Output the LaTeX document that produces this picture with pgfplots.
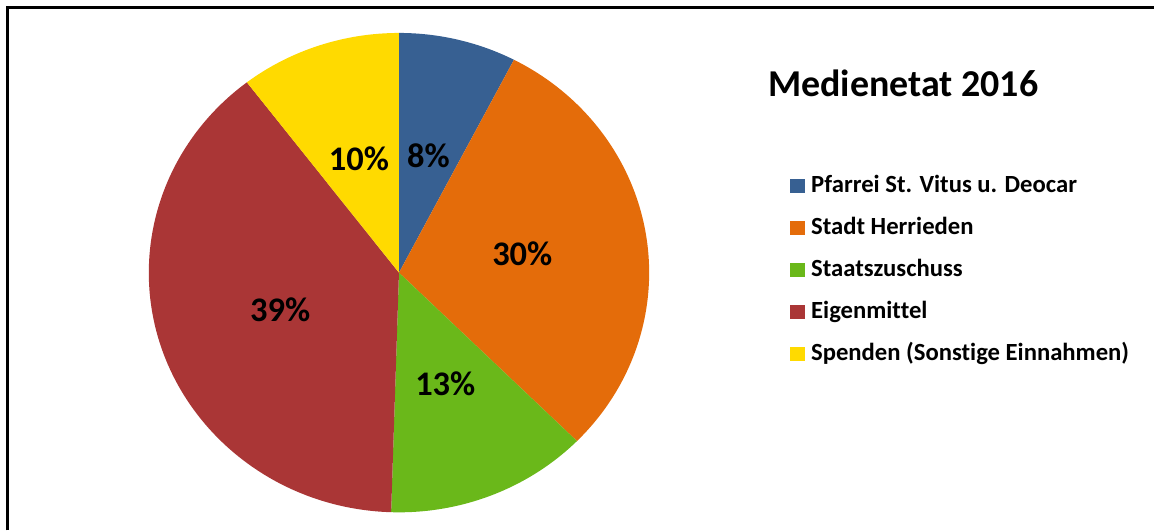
\documentclass[border=0pt]{standalone}
\usepackage{fontspec}
\setmainfont[Ligatures=NoCommon]{Carlito}
\usepackage{pgfplots}
\usepackage{pgfplotstable}
\pgfplotsset{compat=1.18}
\definecolor{cBlue}{RGB}{55,96,146}
\definecolor{cOrange}{RGB}{228,108,10}
\definecolor{cGreen}{RGB}{106,184,26}
\definecolor{cRed}{RGB}{170,54,54}
\definecolor{cYellow}{RGB}{255,218,0}
\pgfplotstableread[col sep=comma]{
value,col,label,name,base
7.6,cBlue,8,Pfarrei St. Vitus u. Deocar,338
29.8,cOrange,30,Stadt Herrieden,296
13.1,cGreen,13,Staatszuschuss,254
39.1,cRed,39,Eigenmittel,212
10.4,cYellow,10,Spenden (Sonstige Einnahmen),170
}\piedata
\newcommand\labfont{\fontsize{34.5}{40}\selectfont\bfseries}
\newcommand\legfont{\fontsize{24.7}{28}\selectfont\bfseries}
\newcommand\titfont{\fontsize{38}{44}\selectfont\bfseries}
\begin{document}
\begin{tikzpicture}
\begin{axis}[hide axis, scale only axis, width=1155pt, height=531pt,
  xmin=0, xmax=1155, ymin=0, ymax=531, clip=false]
\path (axis cs:0,0) rectangle (axis cs:1155,531);
\draw[line width=3pt, black] (axis cs:8,0) -- (axis cs:8,523) -- (axis cs:1155,523);
\def\startA{90}
\pgfplotsforeachungrouped \i in {0,...,4}{%
  \pgfplotstablegetelem{\i}{value}\of\piedata \let\v\pgfplotsretval
  \pgfplotstablegetelem{\i}{col}\of\piedata \let\c\pgfplotsretval
  \pgfplotstablegetelem{\i}{base}\of\piedata \let\b\pgfplotsretval
  \pgfmathsetmacro\endA{\startA-3.6*\v}%
  \edef\doit{\noexpand\fill[\c] (axis cs:399.5,258) -- (axis cs:{399.5+250.5*cos(\startA)},{258+240*sin(\startA)}) arc[start angle=\startA, end angle=\endA, x radius=250.5pt, y radius=240pt] -- cycle;}%
  \doit
  \edef\doit{\noexpand\fill[\c] (axis cs:791,\b) rectangle (axis cs:806,{\b+14});}%
  \doit
  \global\let\startA\endA
}
\def\startA{90}
\pgfplotsforeachungrouped \i in {0,...,4}{%
  \pgfplotstablegetelem{\i}{value}\of\piedata \let\v\pgfplotsretval
  \pgfplotstablegetelem{\i}{label}\of\piedata \let\l\pgfplotsretval
  \pgfplotstablegetelem{\i}{name}\of\piedata \let\n\pgfplotsretval
  \pgfplotstablegetelem{\i}{base}\of\piedata \let\b\pgfplotsretval
  \pgfmathsetmacro\endA{\startA-3.6*\v}%
  \pgfmathsetmacro\midA{(\startA+\endA)/2}%
  \edef\doit{\noexpand\node[font=\noexpand\labfont, inner sep=0pt] at (axis cs:{399.5+125*cos(\midA)},{258+120*sin(\midA)}) {\l\noexpand\%};}%
  \doit
  \edef\doit{\noexpand\node[font=\noexpand\legfont, inner sep=0pt, anchor=base west] at (axis cs:812,\b) {\n};}%
  \doit
  \global\let\startA\endA
}
\node[font=\titfont, inner sep=0pt, anchor=base west] at (axis cs:769,434) {Medienetat 2016};
\end{axis}
\end{tikzpicture}
\end{document}
